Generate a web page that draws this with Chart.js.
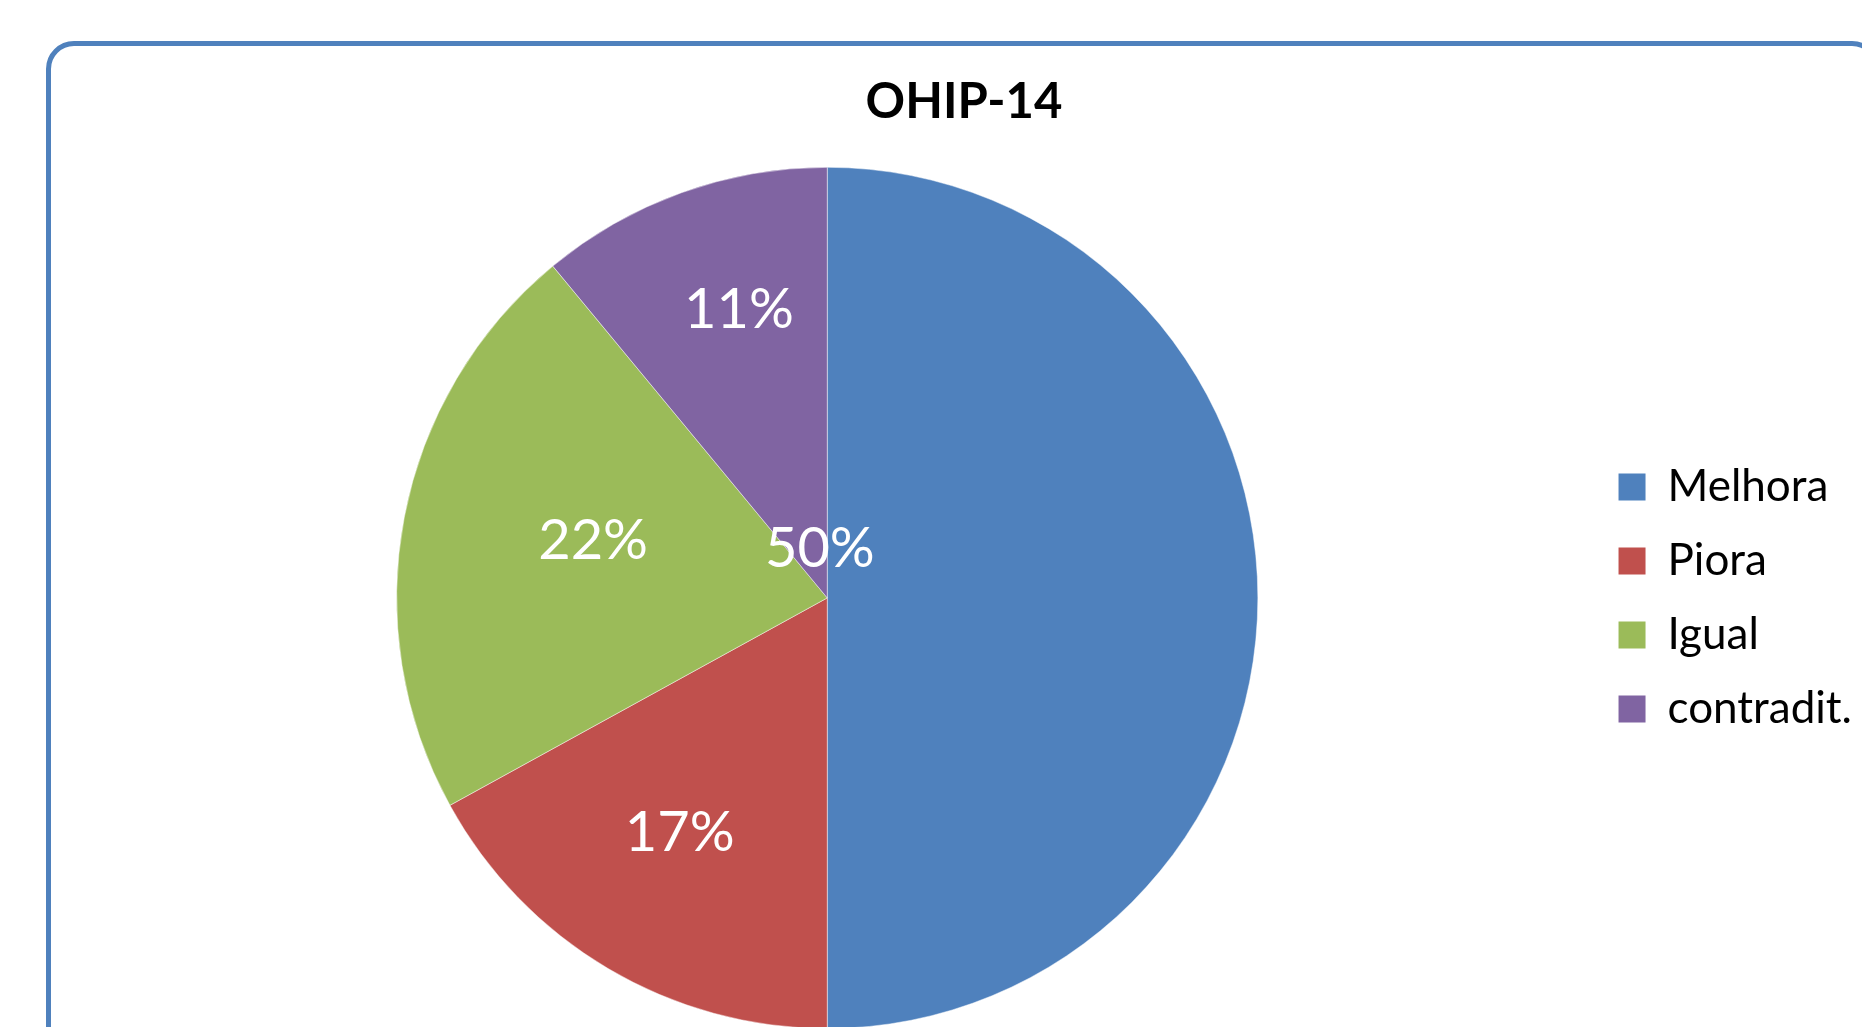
<!DOCTYPE html>
<html>
<head>
<meta charset="utf-8">
<script src="https://cdn.jsdelivr.net/npm/chart.js@4"></script>
<style>
  html, body { margin: 0; padding: 0; background: #fff; overflow: hidden; }
  #frame {
    position: absolute; left: 46px; top: 41px;
    width: 1824px; height: 1100px;
    border: 5px solid #4F81BD; border-radius: 28px;
  }
  #wrap { position: absolute; left: 0; top: 0; width: 1862px; height: 1029px; }
</style>
</head>
<body>
<div id="frame"></div>
<div id="wrap"><canvas id="pieChart"></canvas></div>
<script>
const categories = ["Melhora", "Piora", "Igual", "contradit."];
const percentages = [50, 17, 22, 11];
const colors = ["#4F81BD", "#C0504D", "#9BBB59", "#8064A2"];

// where each percentage sits inside its slice: share of the radius, turn from the mid-angle (deg)
const labelPlacement = [
    { r: 0.124, turn: -98 },
    { r: 0.636, turn: 2 },
    { r: 0.562, turn: 3.8 },
    { r: 0.709, turn: 3 }
];

const sliceLabels = {
    id: "sliceLabels",
    afterDatasetsDraw(chart) {
        const ctx = chart.ctx;
        const meta = chart.getDatasetMeta(0);
        ctx.save();
        ctx.font = "56px Lato";
        ctx.fillStyle = "#ffffff";
        ctx.textAlign = "center";
        ctx.textBaseline = "middle";
        meta.data.forEach((arc, i) => {
            const p = arc.getProps(["x", "y", "startAngle", "endAngle", "outerRadius"], true);
            const place = labelPlacement[i];
            const a = (p.startAngle + p.endAngle) / 2 + place.turn * Math.PI / 180;
            const r = p.outerRadius * place.r;
            ctx.fillText(percentages[i] + "%", p.x + Math.cos(a) * r, p.y + Math.sin(a) * r + 4);
        });
        ctx.restore();
    }
};

const ctx = document.getElementById("pieChart");

new Chart(ctx, {
    type: "pie",
    data: {
        labels: categories,
        datasets: [
            {
                data: percentages,
                backgroundColor: colors,
                borderColor: "rgba(255,255,255,0.45)",
                borderWidth: 1
            }
        ]
    },
    options: {
        responsive: true,
        maintainAspectRatio: false,
        animation: false,
        layout: { padding: { left: 66, right: 0, top: 0, bottom: 0 } },
        plugins: {
            tooltip: { enabled: false },
            title: {
                display: true,
                text: "OHIP-14",
                color: "#000000",
                font: { family: "Lato", size: 49, weight: "bold" },
                padding: { top: 73, bottom: 35 }
            },
            legend: {
                position: "right",
                align: "center",
                fullSize: false,
                labels: {
                    color: "#000000",
                    font: { family: "Lato", size: 44 },
                    boxWidth: 27,
                    boxHeight: 27,
                    padding: 30,
                    generateLabels(chart) {
                        return Chart.overrides.pie.plugins.legend.labels.generateLabels(chart)
                            .map(item => Object.assign(item, { lineWidth: 0, strokeStyle: "transparent" }));
                    }
                }
            }
        }
    },
    plugins: [sliceLabels]
});
</script>
</body>
</html>
